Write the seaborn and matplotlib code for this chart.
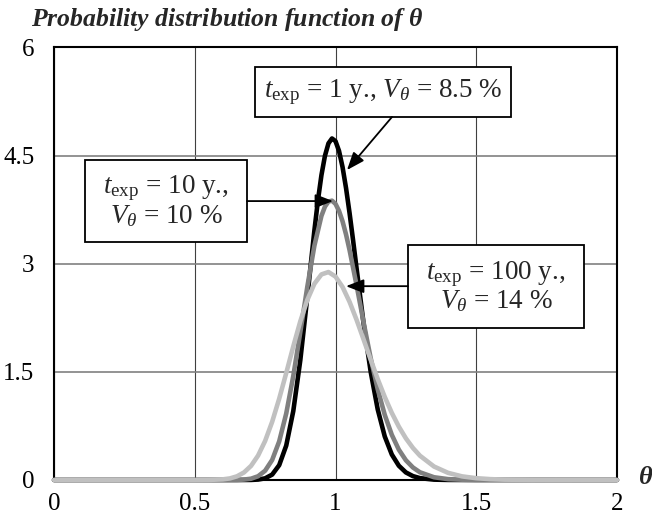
import matplotlib
matplotlib.use("Agg")
import matplotlib.pyplot as plt
from matplotlib.patches import Rectangle
import seaborn as sns
import pandas as pd

# ---------------- data ----------------
theta_1y = [0, 0.5, 0.65, 0.7, 0.725, 0.75, 0.775, 0.8, 0.825, 0.85,
            0.875, 0.9, 0.925, 0.9375, 0.95, 0.9625, 0.975, 0.9875, 1.0, 1.0125,
            1.025, 1.0375, 1.05, 1.0625, 1.075, 1.1, 1.125, 1.15, 1.175, 1.2,
            1.225, 1.25, 1.275, 1.3, 1.35, 1.4, 1.5, 2.0]
pdf_1y = [0, 0, 0.0, 0.001, 0.006, 0.023, 0.075, 0.206, 0.478, 0.956,
          1.663, 2.543, 3.461, 3.876, 4.228, 4.497, 4.670, 4.738, 4.701, 4.565,
          4.342, 4.048, 3.702, 3.324, 2.932, 2.166, 1.501, 0.979, 0.604, 0.354,
          0.198, 0.105, 0.054, 0.026, 0.005, 0.001, 0, 0]

theta_10y = [0, 0.5, 0.6, 0.65, 0.675, 0.7, 0.725, 0.75, 0.775, 0.8,
             0.825, 0.85, 0.875, 0.9, 0.925, 0.95, 0.9625, 0.975, 0.9875, 1.0,
             1.0125, 1.025, 1.0375, 1.05, 1.075, 1.1, 1.125, 1.15, 1.175, 1.2,
             1.225, 1.25, 1.275, 1.3, 1.35, 1.4, 1.45, 1.5, 2.0]
pdf_10y = [0, 0, 0.0, 0.001, 0.006, 0.018, 0.052, 0.129, 0.278, 0.536,
           0.923, 1.442, 2.053, 2.684, 3.250, 3.663, 3.792, 3.863, 3.875, 3.831,
           3.733, 3.589, 3.405, 3.189, 2.699, 2.182, 1.690, 1.259, 0.903, 0.627,
           0.421, 0.274, 0.174, 0.107, 0.038, 0.012, 0.004, 0.001, 0]

theta_100y = [0, 0.45, 0.5, 0.55, 0.6, 0.625, 0.65, 0.675, 0.7, 0.725,
              0.75, 0.775, 0.8, 0.825, 0.85, 0.875, 0.9, 0.925, 0.95, 0.975,
              1.0, 1.025, 1.05, 1.075, 1.1, 1.125, 1.15, 1.175, 1.2, 1.225,
              1.25, 1.275, 1.3, 1.35, 1.4, 1.45, 1.5, 1.55, 1.6, 1.7, 2.0]
pdf_100y = [0, 0, 0.0, 0.001, 0.009, 0.022, 0.051, 0.105, 0.196, 0.339,
            0.542, 0.807, 1.128, 1.484, 1.853, 2.202, 2.499, 2.722, 2.852, 2.885,
            2.822, 2.678, 2.471, 2.221, 1.947, 1.669, 1.400, 1.152, 0.931, 0.740,
            0.578, 0.445, 0.337, 0.187, 0.099, 0.050, 0.025, 0.012, 0.005, 0.001, 0]

series_colors = ["#000000", "#808080", "#c0c0c0"]
x_ticks = [0, 0.5, 1, 1.5, 2]
x_tick_labels = ["0", "0.5", "1", "1.5", "2"]
y_ticks = [0, 1.5, 3, 4.5, 6]
y_tick_labels = ["0", "1.5", "3", "4.5", "6"]

labels = [r"$t_{\mathrm{exp}}$ = 1 y., $V_\theta$ = 8.5 %",
          "$t_{\\mathrm{exp}}$ = 10 y.,\n$V_\\theta$ = 10 %",
          "$t_{\\mathrm{exp}}$ = 100 y.,\n$V_\\theta$ = 14 %"]

# ---------------- style ----------------
sns.set_theme(style="white")
plt.rcParams["font.family"] = ["Liberation Serif", "DejaVu Serif"]
plt.rcParams["mathtext.fontset"] = "custom"
plt.rcParams["mathtext.rm"] = "Liberation Serif"
plt.rcParams["mathtext.it"] = "Liberation Serif:italic"
plt.rcParams["mathtext.bf"] = "Liberation Serif:bold:italic"

W, H = 652, 519
fig = plt.figure(figsize=(W / 100, H / 100), dpi=100)
fig.patch.set_facecolor("white")
ax = fig.add_axes([54 / W, 39 / H, 563 / W, 432.5 / H])
ax.set_facecolor("white")

for th, pdf, col, z in [(theta_1y, pdf_1y, series_colors[0], 3),
                        (theta_10y, pdf_10y, series_colors[1], 3.1),
                        (theta_100y, pdf_100y, series_colors[2], 3.2)]:
    df = pd.DataFrame({"theta": th, "pdf": pdf})
    sns.lineplot(data=df, x="theta", y="pdf", ax=ax, color=col, lw=3.3,
                 solid_capstyle="round", solid_joinstyle="round",
                 clip_on=False, zorder=z, sort=False, estimator=None)

ax.set_xlim(0, 2)
ax.set_ylim(0, 6)
ax.set_xticks(x_ticks)
ax.set_xticklabels(x_tick_labels)
ax.set_yticks(y_ticks)
ax.set_yticklabels(y_tick_labels)
ax.set_xlabel("")
ax.set_ylabel("")
ax.xaxis.grid(True, color="#404040", lw=0.8)
ax.yaxis.grid(True, color="#808080", lw=1.2)
ax.set_axisbelow(True)
for s in ax.spines.values():
    s.set_visible(True)
    s.set_color("black")
    s.set_linewidth(1.5)
    s.set_zorder(2.5)
ax.tick_params(axis="both", length=0, labelsize=18, colors="black")
ax.tick_params(axis="x", pad=9)
ax.tick_params(axis="y", pad=14)

# ---------------- annotation boxes (pixel -> data) ----------------
def px(x):
    return (x - 54) / 281.5


def py(y):
    return (479.6 - y) / 72.0


boxes = [(255, 511, 67, 117),
         (85, 247, 160, 242),
         (408, 584, 245, 328)]
for (x0, x1, y0, y1), lab in zip(boxes, labels):
    ax.add_patch(Rectangle((px(x0), py(y1)), px(x1) - px(x0), py(y0) - py(y1),
                           facecolor="white", edgecolor="black", lw=1.3, zorder=5))
    ax.text((px(x0) + px(x1)) / 2, (py(y0) + py(y1)) / 2, lab, ha="center",
            va="center", multialignment="center", fontsize=19.5, zorder=6,
            linespacing=1.0)

arrows = [((392, 117), (347, 170)),
          ((247, 201), (333, 201)),
          ((408, 286), (346, 286))]
for (sx, sy), (tx, ty) in arrows:
    ax.annotate("", xy=(px(tx), py(ty)), xytext=(px(sx), py(sy)), zorder=7,
                arrowprops=dict(arrowstyle="-|>,head_length=0.9,head_width=0.35",
                                color="black", lw=1.3, shrinkA=0, shrinkB=0))

# ---------------- titles ----------------
fig.text(31 / W, 1 - 26 / H, r"Probability distribution function of $\mathbf{\theta}$",
         ha="left", va="baseline", fontsize=18.5, fontweight="bold", style="italic")
fig.text(646 / W, 1 - 478 / H, "θ", ha="center", va="center", fontsize=19,
         fontweight="bold", style="italic")

fig.savefig("out.png", dpi=100, facecolor="white")
